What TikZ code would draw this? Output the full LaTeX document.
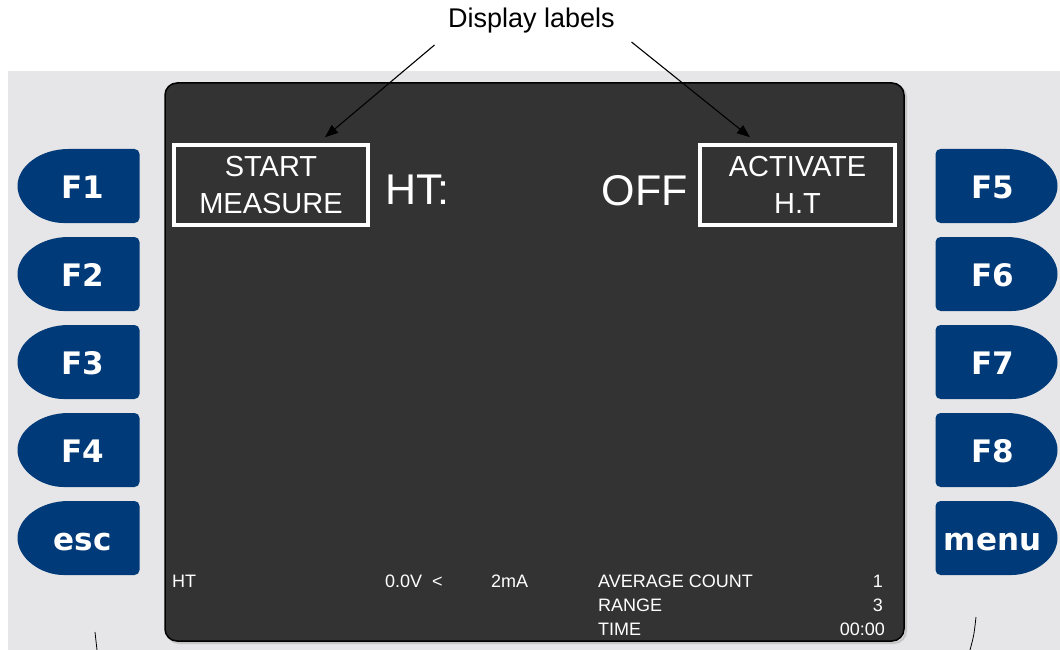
\documentclass[tikz,border=0pt]{standalone}
\usepackage{fontspec}
\setmainfont{Liberation Sans}
\newfontfamily\keyfont{DejaVu Sans}
\usetikzlibrary{arrows.meta, calc}
\definecolor{keyblue}{RGB}{0,58,120}
\definecolor{lcdgrey}{RGB}{51,51,51}
\definecolor{panelgrey}{RGB}{230,230,232}

\begin{document}
\begin{tikzpicture}[
  x=1pt, y=-1pt,
  key/.style={fill=keyblue},
  keytext/.style={text=white, anchor=base, inner sep=0pt, font=\keyfont\bfseries\fontsize{31}{31}\selectfont},
  softbox/.style={draw=white, line width=3.5pt, text=white, minimum width=194pt, minimum height=80pt, inner sep=0pt, align=center, font=\fontsize{29}{37}\selectfont},
  bigtext/.style={text=white, inner sep=0pt, font=\fontsize{43}{43}\selectfont},
  smalltext/.style={text=white, inner sep=0pt, font=\fontsize{18}{18}\selectfont},
  arrow/.style={line width=1.1pt, -{Triangle[length=13pt,width=10pt]}},
  lkey/.pic={
    \fill[key] (-61,0) .. controls (-61,-20) and (-38,-37) .. (-10,-37)
      [rounded corners=5pt] -- (61,-37) -- (61,37) -- (-10,37)
      [sharp corners] .. controls (-38,37) and (-61,20) .. (-61,0) -- cycle;
    \node[keytext] (-t) at (4,12) {#1};
  },
  rkey/.pic={
    \fill[key] (61,0) .. controls (61,-20) and (38,-37) .. (10,-37)
      [rounded corners=5pt] -- (-61,-37) -- (-61,37) -- (10,37)
      [sharp corners] .. controls (38,37) and (61,20) .. (61,0) -- cycle;
    \node[keytext] (-t) at (-4,12) {#1};
  }
]
\useasboundingbox (0,0) rectangle (1060,650);

% instrument front
\fill[panelgrey] (8,71) rectangle (1060,650);
\draw[gray!45, line width=2pt, rounded corners=12pt] (167,85) rectangle (906,643);
\draw[black, fill=lcdgrey, line width=1.5pt, rounded corners=12pt] (165,83) rectangle (904,641);

% soft keys
\pic (f1) at (78.5,186) {lkey=F1};
\pic (f2) at (78.5,274) {lkey=F2};
\pic (f3) at (78.5,362) {lkey=F3};
\pic (f4) at (78.5,450) {lkey=F4};
\pic (esc) at (78.5,538) {lkey=esc};
\pic (f5) at (996.5,186) {rkey=F5};
\pic (f6) at (996.5,274) {rkey=F6};
\pic (f7) at (996.5,362) {rkey=F7};
\pic (f8) at (996.5,450) {rkey=F8};
\pic (menu) at (996.5,538) {rkey=menu};

% screen
\node[softbox] (smbox) at (271,185) {START\\MEASURE};
\node[softbox, minimum width=195pt] (acbox) at (797.5,185) {ACTIVATE\\H.T};
\node[bigtext, anchor=base west] (ht) at (385,204) {HT:};
\node[bigtext, anchor=base east] (off) at (688,205) {OFF};

\node[smalltext, anchor=base west] (htlbl) at (172,587) {HT};
\node[smalltext, anchor=base west] (volt) at (385,587) {0.0V \ <};
\node[smalltext, anchor=base west] (curr) at (491,587) {2mA};
\node[smalltext, anchor=base west] (avg) at (598,587) {AVERAGE COUNT};
\node[smalltext, anchor=base west] (rng) at (598,611) {RANGE};
\node[smalltext, anchor=base west] (tim) at (598,635) {TIME};
\node[smalltext, anchor=base east] (avgval) at (883,587) {1};
\node[smalltext, anchor=base east] (rngval) at (883,611) {3};
\node[smalltext, anchor=base east] (timval) at (885,635) {00:00};

% callout
\node[anchor=base, font=\fontsize{27}{27}\selectfont] (lbl) at (531.5,28) {Display labels};
\draw[arrow] ([shift={(-97pt,-17pt)}]lbl.base) -- ([shift={(54pt,6pt)}]smbox.north);
\draw[arrow] ([shift={(100pt,-14pt)}]lbl.base) -- ([shift={(-47.5pt,6pt)}]acbox.north);

\draw[line width=0.8pt] (95,632) .. controls (96,641) .. (97,650);
\draw[line width=0.8pt] (976,617) .. controls (974,635) .. (970,650);

\end{tikzpicture}
\end{document}
